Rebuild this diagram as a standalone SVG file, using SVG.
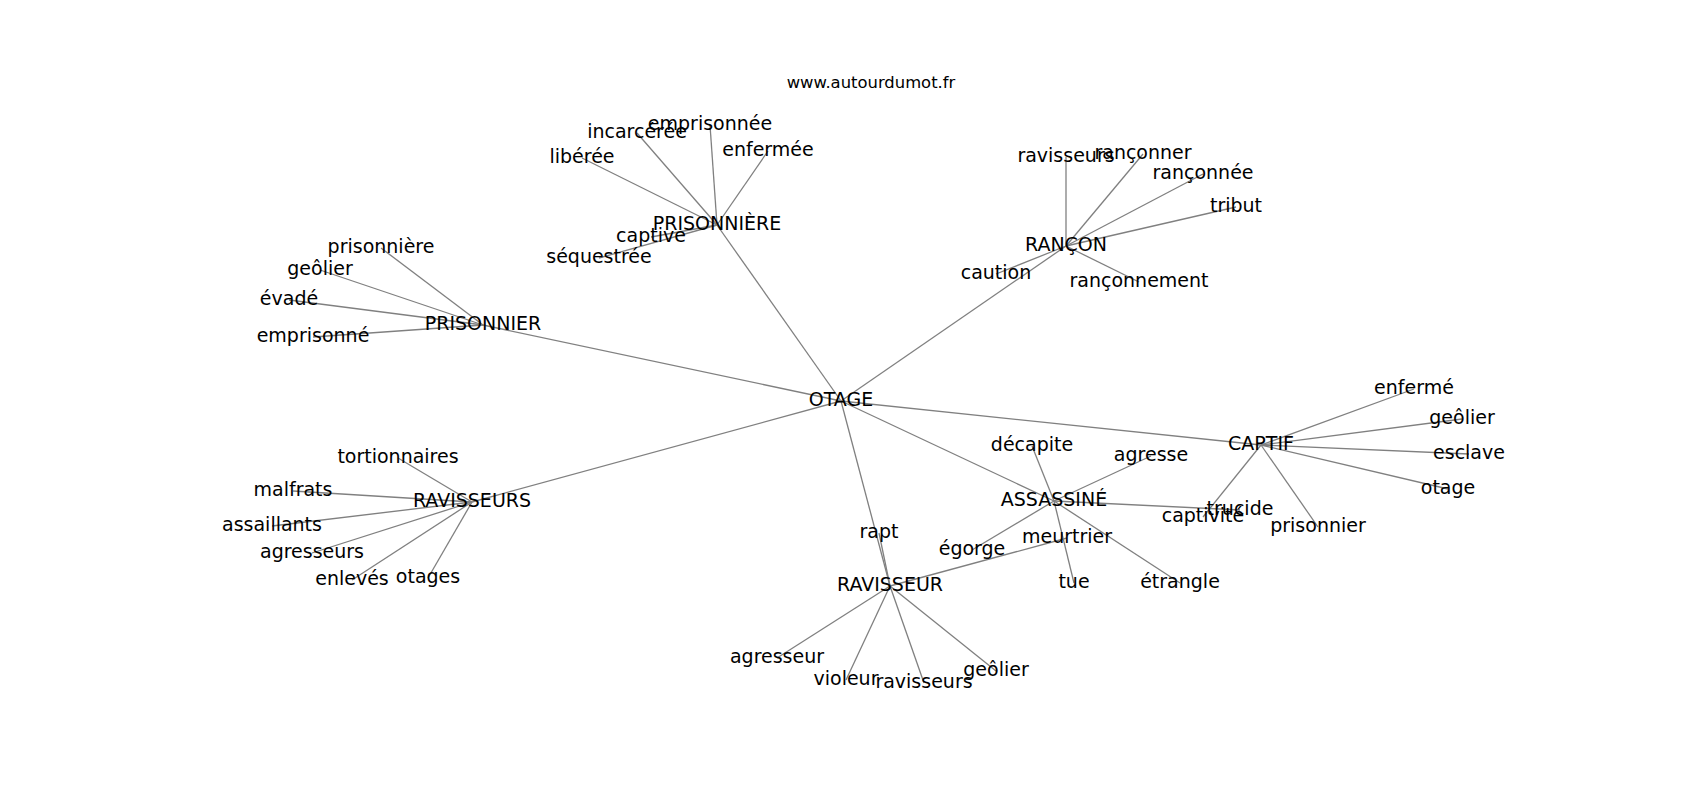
<svg xmlns="http://www.w3.org/2000/svg" width="1700" height="800" viewBox="0 0 1700 800">
<style>
.e{stroke:#808080;stroke-width:1.3;fill:none}
text{font-family:"DejaVu Sans","Liberation Sans",sans-serif;fill:#000;text-anchor:middle}
.n text{font-size:19px}
.t{font-size:16.4px}
</style>
<rect width="1700" height="800" fill="#fff"/>
<text class="t" x="871" y="88">www.autourdumot.fr</text>
<g id="edges">
<line class="e" x1="841" y1="401" x2="717" y2="225"/>
<line class="e" x1="841" y1="401" x2="1066" y2="246"/>
<line class="e" x1="841" y1="401" x2="483" y2="325"/>
<line class="e" x1="841" y1="401" x2="472" y2="502"/>
<line class="e" x1="841" y1="401" x2="1261" y2="445"/>
<line class="e" x1="841" y1="401" x2="1054" y2="501"/>
<line class="e" x1="841" y1="401" x2="890" y2="586"/>
<line class="e" x1="717" y1="225" x2="710" y2="125"/>
<line class="e" x1="717" y1="225" x2="637" y2="133"/>
<line class="e" x1="717" y1="225" x2="768" y2="151"/>
<line class="e" x1="717" y1="225" x2="582" y2="158"/>
<line class="e" x1="717" y1="225" x2="651" y2="237"/>
<line class="e" x1="717" y1="225" x2="599" y2="258"/>
<line class="e" x1="1066" y1="246" x2="1066" y2="157"/>
<line class="e" x1="1066" y1="246" x2="1143" y2="154"/>
<line class="e" x1="1066" y1="246" x2="1203" y2="174"/>
<line class="e" x1="1066" y1="246" x2="1236" y2="207"/>
<line class="e" x1="1066" y1="246" x2="996" y2="274"/>
<line class="e" x1="1066" y1="246" x2="1139" y2="282"/>
<line class="e" x1="483" y1="325" x2="381" y2="248"/>
<line class="e" x1="483" y1="325" x2="320" y2="270"/>
<line class="e" x1="483" y1="325" x2="289" y2="300"/>
<line class="e" x1="483" y1="325" x2="313" y2="337"/>
<line class="e" x1="472" y1="502" x2="398" y2="458"/>
<line class="e" x1="472" y1="502" x2="293" y2="491"/>
<line class="e" x1="472" y1="502" x2="272" y2="526"/>
<line class="e" x1="472" y1="502" x2="312" y2="553"/>
<line class="e" x1="472" y1="502" x2="352" y2="580"/>
<line class="e" x1="472" y1="502" x2="428" y2="578"/>
<line class="e" x1="1054" y1="501" x2="1032" y2="446"/>
<line class="e" x1="1054" y1="501" x2="1151" y2="456"/>
<line class="e" x1="1054" y1="501" x2="1240" y2="510"/>
<line class="e" x1="1054" y1="501" x2="1180" y2="583"/>
<line class="e" x1="1054" y1="501" x2="1074" y2="583"/>
<line class="e" x1="1054" y1="501" x2="972" y2="550"/>
<line class="e" x1="1261" y1="445" x2="1414" y2="389"/>
<line class="e" x1="1261" y1="445" x2="1462" y2="419"/>
<line class="e" x1="1261" y1="445" x2="1469" y2="454"/>
<line class="e" x1="1261" y1="445" x2="1448" y2="489"/>
<line class="e" x1="1261" y1="445" x2="1318" y2="527"/>
<line class="e" x1="1261" y1="445" x2="1203" y2="517"/>
<line class="e" x1="890" y1="586" x2="879" y2="533"/>
<line class="e" x1="890" y1="586" x2="1067" y2="538"/>
<line class="e" x1="890" y1="586" x2="777" y2="658"/>
<line class="e" x1="890" y1="586" x2="846" y2="680"/>
<line class="e" x1="890" y1="586" x2="924" y2="683"/>
<line class="e" x1="890" y1="586" x2="996" y2="671"/>
</g>
<g class="n">
<g id="n-otage"><text x="841" y="406">OTAGE</text></g>
<g id="n-prisonniere"><text x="717" y="230">PRISONNIÈRE</text></g>
<g id="n-rancon"><text x="1066" y="251">RANÇON</text></g>
<g id="n-prisonnier"><text x="483" y="330">PRISONNIER</text></g>
<g id="n-ravisseurs"><text x="472" y="507">RAVISSEURS</text></g>
<g id="n-assassine"><text x="1054" y="506">ASSASSINÉ</text></g>
<g id="n-captif"><text x="1261" y="450">CAPTIF</text></g>
<g id="n-ravisseur"><text x="890" y="591">RAVISSEUR</text></g>
<g id="n-emprisonnee"><text x="710" y="130">emprisonnée</text></g>
<g id="n-incarceree"><text x="637" y="138">incarcérée</text></g>
<g id="n-enfermee"><text x="768" y="156">enfermée</text></g>
<g id="n-liberee"><text x="582" y="163">libérée</text></g>
<g id="n-captive"><text x="651" y="242">captive</text></g>
<g id="n-sequestree"><text x="599" y="263">séquestrée</text></g>
<g id="n-ravisseurs2"><text x="1066" y="162">ravisseurs</text></g>
<g id="n-ranconner"><text x="1143" y="159">rançonner</text></g>
<g id="n-ranconnee"><text x="1203" y="179">rançonnée</text></g>
<g id="n-tribut"><text x="1236" y="212">tribut</text></g>
<g id="n-caution"><text x="996" y="279">caution</text></g>
<g id="n-ranconnement"><text x="1139" y="287">rançonnement</text></g>
<g id="n-prisonniere2"><text x="381" y="253">prisonnière</text></g>
<g id="n-geolier1"><text x="320" y="275">geôlier</text></g>
<g id="n-evade"><text x="289" y="305">évadé</text></g>
<g id="n-emprisonne"><text x="313" y="342">emprisonné</text></g>
<g id="n-tortionnaires"><text x="398" y="463">tortionnaires</text></g>
<g id="n-malfrats"><text x="293" y="496">malfrats</text></g>
<g id="n-assaillants"><text x="272" y="531">assaillants</text></g>
<g id="n-agresseurs"><text x="312" y="558">agresseurs</text></g>
<g id="n-enleves"><text x="352" y="585">enlevés</text></g>
<g id="n-otages"><text x="428" y="583">otages</text></g>
<g id="n-decapite"><text x="1032" y="451">décapite</text></g>
<g id="n-agresse"><text x="1151" y="461">agresse</text></g>
<g id="n-trucide"><text x="1240" y="515">trucide</text></g>
<g id="n-etrangle"><text x="1180" y="588">étrangle</text></g>
<g id="n-tue"><text x="1074" y="588">tue</text></g>
<g id="n-egorge"><text x="972" y="555">égorge</text></g>
<g id="n-enferme"><text x="1414" y="394">enfermé</text></g>
<g id="n-geolier2"><text x="1462" y="424">geôlier</text></g>
<g id="n-esclave"><text x="1469" y="459">esclave</text></g>
<g id="n-otage2"><text x="1448" y="494">otage</text></g>
<g id="n-prisonnier2"><text x="1318" y="532">prisonnier</text></g>
<g id="n-captivite"><text x="1203" y="522">captivité</text></g>
<g id="n-rapt"><text x="879" y="538">rapt</text></g>
<g id="n-meurtrier"><text x="1067" y="543">meurtrier</text></g>
<g id="n-agresseur"><text x="777" y="663">agresseur</text></g>
<g id="n-violeur"><text x="846" y="685">violeur</text></g>
<g id="n-ravisseurs3"><text x="924" y="688">ravisseurs</text></g>
<g id="n-geolier3"><text x="996" y="676">geôlier</text></g>
</g>
</svg>
